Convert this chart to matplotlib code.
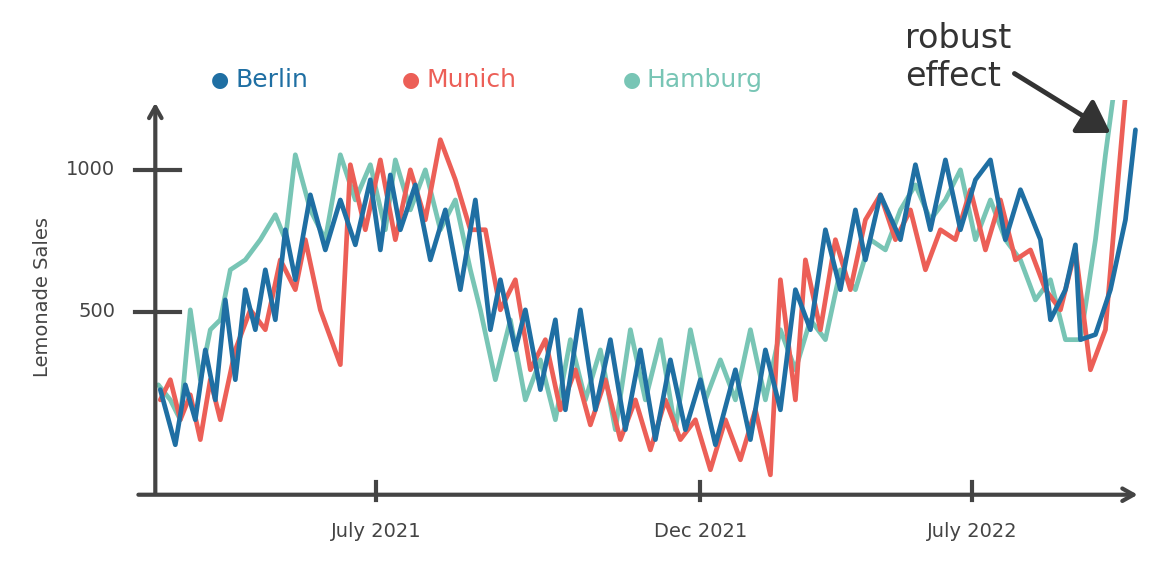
import matplotlib.pyplot as plt

# x = day index since start
berlin_x = [0,15,25,35,45,55,65,75,85,95,105,115,125,135,150,165,180,195,210,220,230,240,255,270,285,300,315,330,340,355,365,380,395,405,420,435,450,465,480,495,510,525,540,555,575,590,605,620,635,650,665,680,695,705,720,740,755,770,785,800,815,830,845,860,880,890,905,915,920,935,950,965,975]
berlin_y = [226,32,243,120,366,190,542,261,578,437,648,472,789,613,912,718,894,736,965,718,982,789,947,683,859,578,894,437,613,366,507,226,472,155,507,155,402,85,366,50,331,85,261,32,296,50,366,155,578,437,789,578,859,683,912,754,1018,789,1035,789,965,1035,754,930,754,472,578,736,402,420,578,824,1141]

munich_x = [0,10,20,30,40,50,60,75,90,105,120,135,145,160,180,190,205,220,235,250,265,280,295,310,325,340,355,370,385,400,415,430,445,460,475,490,505,520,535,550,565,580,595,610,620,635,645,660,675,690,705,720,735,750,765,780,795,810,825,840,855,870,885,900,915,930,945,955,965]
munich_y = [190,261,120,208,50,261,120,366,507,437,683,578,754,507,314,1018,789,1035,754,1000,824,1106,965,789,789,507,613,296,402,155,296,102,261,50,190,14,190,50,120,-56,120,-21,155,-74,613,190,683,437,754,578,824,912,754,859,648,789,754,930,718,894,683,718,578,507,718,296,437,859,1264]

hamburg_x = [-2,10,20,30,40,50,60,70,85,100,115,125,135,150,165,180,195,210,225,235,250,265,280,295,310,320,335,350,365,380,395,410,425,440,455,470,485,500,515,530,545,560,575,590,605,620,635,650,665,680,695,710,725,740,755,770,785,800,815,830,845,860,875,890,905,920,935,945,953]
hamburg_y = [243,190,120,507,261,437,472,648,683,754,842,754,1053,859,754,1053,894,1018,789,1035,859,1000,789,894,648,507,261,472,190,331,120,402,190,366,85,437,190,402,85,437,190,331,190,437,190,437,296,472,402,648,578,754,718,859,947,824,894,1000,754,894,754,683,542,613,402,402,754,1053,1264]

tick_pos = [216, 540, 812]
tick_labels = ["July 2021", "Dec 2021", "July 2022"]
ytick_vals = [500, 1000]

c_b, c_m, c_h = "#1f6fa3", "#ec5f57", "#78c5b5"
txt = "#444444"

fig = plt.figure(figsize=(11.59, 5.68), dpi=100)
ax = fig.add_axes([0.134, 0.129, 0.85, 0.695])
ax.set_xlim(-5, 980)
ax.set_ylim(-144, 1246)
for s in ax.spines.values():
    s.set_visible(False)
ax.set_xticks([]); ax.set_yticks([])

kw = dict(lw=3.4, solid_capstyle="round", solid_joinstyle="round")
ax.plot(hamburg_x, hamburg_y, color=c_h, **kw)
ax.plot(munich_x, munich_y, color=c_m, **kw)
ax.plot(berlin_x, berlin_y, color=c_b, **kw)

# axes arrows
ax.annotate("", xy=(1.0, 0), xytext=(-0.02, 0), xycoords="axes fraction",
            arrowprops=dict(arrowstyle="->,head_length=0.8,head_width=0.45", lw=3, color=txt))
ax.annotate("", xy=(0, 1.0), xytext=(0, -0.005), xycoords="axes fraction",
            arrowprops=dict(arrowstyle="->,head_length=0.8,head_width=0.45", lw=3, color=txt))

for p, l in zip(tick_pos, tick_labels):
    ax.plot([p, p], [-144 - 20, -144 + 45], color=txt, lw=3, clip_on=False)
    ax.text(p, -144 - 95, l, ha="center", va="top", fontsize=14, color=txt)
for v in ytick_vals:
    ax.plot([-25, 20], [v, v], color=txt, lw=3, clip_on=False)
    ax.text(-45, v, str(v), ha="right", va="center", fontsize=14, color=txt)
ax.text(-0.115, 0.5, "Lemonade Sales", rotation=90, transform=ax.transAxes,
        ha="center", va="center", fontsize=14, color=txt)

# legend
for x, name, c in [(0.075, "Berlin", c_b), (0.24, "Munich", c_m), (0.43, "Hamburg", c_h)]:
    fig.text(x + 0.115, 0.86, "●", color=c, fontsize=15, ha="center", va="center")
    fig.text(x + 0.128, 0.86, name, color=c, fontsize=18, ha="left", va="center")

ax.annotate("robust\neffect", xy=(950, 1130), xytext=(745, 1270),
            fontsize=24, color="#333333", ha="left", va="bottom", annotation_clip=False,
            arrowprops=dict(arrowstyle="-|>,head_length=0.8,head_width=0.5", lw=3.5, color="#333333",
                            shrinkA=0, shrinkB=0, relpos=(1.0, 0.3)))

fig.savefig("out.png", dpi=100)
